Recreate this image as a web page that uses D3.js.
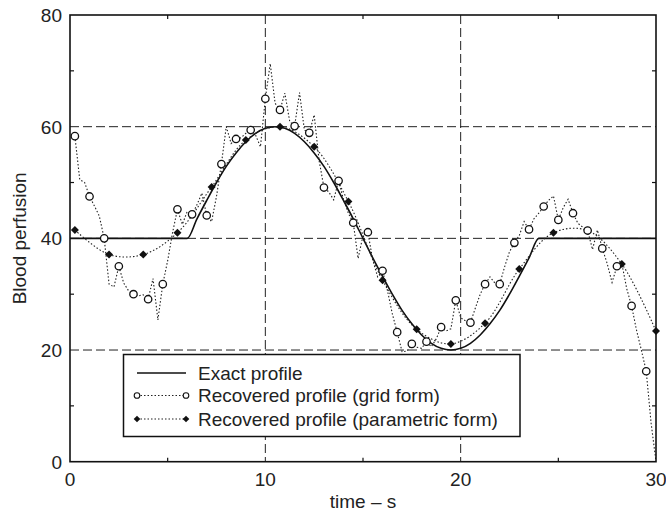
<!DOCTYPE html>
<html><head><meta charset="utf-8">
<script src="https://cdn.jsdelivr.net/npm/d3@7"></script>
<style>body{margin:0;background:#fff}svg{display:block}text{font-family:"Liberation Sans",Arial,Helvetica,sans-serif;fill:#222}</style>
</head><body>
<svg id="c" width="666" height="515"></svg>
<script>
// ---- data ----
const exactTime = [0,6,6.5,7,7.5,8,8.5,9,9.5,10,10.5,11,11.5,12,12.5,13,13.5,14,14.5,15,15.5,16,16.5,17,17.5,18,18.5,19,19.5,20,20.5,21,21.5,22,22.5,23,23.5,24,30];
const exactValue = [40,40,43.5,46.8,50,52.9,55.3,57.3,58.8,59.7,60,59.7,58.8,57.3,55.3,52.9,50,46.8,43.5,40,36.5,33.2,30,27.1,24.7,22.7,21.2,20.3,20,20.3,21.2,22.7,24.7,27.1,30,33.2,36.5,40,40];

const gridTime = d3.range(1, 121).map(i => i * 0.25);
const gridValue = [
 58.3,50.5,50.0, 47.5,45.8,44.0, 40.0,31.8,31.3, 35.0,32.0,30.6,
 30.0,29.7,29.9, 29.1,32.8,25.4, 31.8,36.0,41.0, 45.2,42.5,44.8,
 44.3,46.0,48.1, 44.1,43.0,47.5, 53.3,60.0,57.0, 57.8,58.0,58.8,
 59.4,58.5,56.4, 65.0,71.3,64.2, 63.0,66.0,60.9, 60.1,66.1,59.4,
 58.9,62.1,54.0, 49.1,48.3,46.9, 50.3,47.0,44.5, 42.8,36.4,40.5,
 41.1,36.1,33.1, 34.2,30.7,26.5, 23.2,19.7,19.8, 21.1,20.5,20.3,
 21.5,20.6,22.0, 24.1,23.4,23.8, 28.9,25.8,25.2, 24.9,27.5,30.0,
 31.8,33.1,32.0, 31.8,34.9,37.6, 39.2,40.5,43.0, 41.6,43.5,44.5,
 45.7,46.8,47.6, 43.3,45.5,47.0, 44.5,42.7,42.0, 41.4,38.0,41.5,
 38.2,35.5,32.1, 35.0,35.5,31.0, 27.9,23.6,20.0, 16.2,6.9,0.0];
const gridMarkerEvery = 3;

const paramTime = [0.25,2,3.75,5.5,7.25,9,10.75,12.5,14.25,16,17.75,19.5,21.25,23,24.75,26.5,28.25,30];
const paramValue = [41.5,37.1,37.1,41.0,49.2,57.6,60.0,56.4,46.6,32.5,23.7,21.1,24.8,34.5,41.0,41.4,35.4,23.4];

const xTicks = [0,10,20,30];
const yTicks = [0,20,40,60,80];
const xGrid = [10,20];
const yGrid = [20,40,60];
const xMinor = [5,15,25];
const yMinor = [10,30,50,70];
const legendLabels = ["Exact profile","Recovered profile (grid form)","Recovered profile (parametric form)"];
const xLabel = "time \u2013 s";
const yLabel = "Blood perfusion";

// ---- layout ----
const svg = d3.select("#c");
const L = 70, R = 656, T = 15, B = 461.7;
const x = d3.scaleLinear().domain([0,30]).range([L,R]);
const y = d3.scaleLinear().domain([0,80]).range([B,T]);
const FS = 19;
const diamondPath = h => `M0,${-h}L${h},0L0,${h}L${-h},0Z`;

// grid
const g = svg.append("g");
g.selectAll(".gx").data(xGrid).join("line")
  .attr("x1",d=>x(d)).attr("x2",d=>x(d)).attr("y1",T).attr("y2",B)
  .attr("stroke","#222").attr("stroke-width",1).attr("stroke-dasharray","9,4");
g.selectAll(".gy").data(yGrid).join("line")
  .attr("x1",L).attr("x2",R).attr("y1",d=>y(d)).attr("y2",d=>y(d))
  .attr("stroke","#222").attr("stroke-width",1).attr("stroke-dasharray","9,4");

// minor ticks (inward)
const tk = 4;
xMinor.forEach(v=>{
  svg.append("line").attr("x1",x(v)).attr("x2",x(v)).attr("y1",B).attr("y2",B-tk).attr("stroke","#111").attr("stroke-width",1.2);
  svg.append("line").attr("x1",x(v)).attr("x2",x(v)).attr("y1",T).attr("y2",T+tk).attr("stroke","#111").attr("stroke-width",1.2);
});
yMinor.forEach(v=>{
  svg.append("line").attr("x1",L).attr("x2",L+tk).attr("y1",y(v)).attr("y2",y(v)).attr("stroke","#111").attr("stroke-width",1.2);
  svg.append("line").attr("x1",R).attr("x2",R-tk).attr("y1",y(v)).attr("y2",y(v)).attr("stroke","#111").attr("stroke-width",1.2);
});

// clip
svg.append("clipPath").attr("id","clip").append("rect").attr("x",L).attr("y",T).attr("width",R-L).attr("height",B-T);
const plot = svg.append("g").attr("clip-path","url(#clip)");

// exact profile
const exact = exactTime.map((t,i)=>[t,exactValue[i]]);
plot.append("path").datum(exact)
  .attr("d", d3.line().x(d=>x(d[0])).y(d=>y(d[1])).curve(d3.curveMonotoneX))
  .attr("fill","none").attr("stroke","#111").attr("stroke-width",1.6);

// parametric dotted
const param = paramTime.map((t,i)=>[t,paramValue[i]]);
plot.append("path").datum(param)
  .attr("d", d3.line().x(d=>x(d[0])).y(d=>y(d[1])).curve(d3.curveCatmullRom.alpha(0.5)))
  .attr("fill","none").attr("stroke","#222").attr("stroke-width",1.1).attr("stroke-dasharray","1.5,2");

// grid dotted
const grid = gridTime.map((t,i)=>[t,gridValue[i]]);
plot.append("path").datum(grid)
  .attr("d", d3.line().x(d=>x(d[0])).y(d=>y(d[1])))
  .attr("fill","none").attr("stroke","#222").attr("stroke-width",1.1).attr("stroke-dasharray","1.5,2");

// markers
svg.append("g").selectAll("path").data(param).join("path")
  .attr("d", diamondPath(4)).attr("transform",d=>`translate(${x(d[0])},${y(d[1])})`)
  .attr("fill","#111");
svg.append("g").selectAll("circle").data(grid.filter((d,i)=>i%gridMarkerEvery===0)).join("circle")
  .attr("cx",d=>x(d[0])).attr("cy",d=>y(d[1])).attr("r",3.7)
  .attr("fill","#fff").attr("stroke","#111").attr("stroke-width",1.3);

// frame
svg.append("rect").attr("x",L).attr("y",T).attr("width",R-L).attr("height",B-T)
  .attr("fill","none").attr("stroke","#111").attr("stroke-width",1.6);

// tick labels
svg.append("g").selectAll("text").data(xTicks).join("text")
  .attr("x",d=>x(d)).attr("y",486).attr("text-anchor","middle").attr("font-size",FS).text(d=>d);
svg.append("g").selectAll("text").data(yTicks).join("text")
  .attr("x",62).attr("y",d=>y(d)+7).attr("text-anchor","end").attr("font-size",FS).text(d=>d);

// axis labels
svg.append("text").attr("x",(L+R)/2).attr("y",508).attr("text-anchor","middle").attr("font-size",FS).text(xLabel);
svg.append("text").attr("transform",`translate(26,${(T+B)/2}) rotate(-90)`).attr("text-anchor","middle").attr("font-size",FS).text(yLabel);

// legend
const lg = svg.append("g");
lg.append("rect").attr("x",123.5).attr("y",354.5).attr("width",396.5).attr("height",82)
  .attr("fill","#fff").attr("stroke","#111").attr("stroke-width",1.5);
const rows = [373, 395.5, 419];
const sx1 = 137, sx2 = 186, tx = 198;
lg.append("line").attr("x1",sx1).attr("x2",sx2).attr("y1",rows[0]).attr("y2",rows[0]).attr("stroke","#111").attr("stroke-width",1.5);
lg.append("line").attr("x1",sx1).attr("x2",sx2).attr("y1",rows[1]).attr("y2",rows[1]).attr("stroke","#222").attr("stroke-width",1.1).attr("stroke-dasharray","1.5,2");
[sx1,sx2].forEach(sx=>lg.append("circle").attr("cx",sx).attr("cy",rows[1]).attr("r",2.8).attr("fill","#fff").attr("stroke","#111").attr("stroke-width",1.1));
lg.append("line").attr("x1",sx1).attr("x2",sx2).attr("y1",rows[2]).attr("y2",rows[2]).attr("stroke","#222").attr("stroke-width",1.1).attr("stroke-dasharray","1.5,2");
[sx1,sx2].forEach(sx=>lg.append("path").attr("d",diamondPath(3.3)).attr("transform",`translate(${sx},${rows[2]})`).attr("fill","#111"));
legendLabels.forEach((t,i)=>lg.append("text").attr("x",tx).attr("y",rows[i]+6.5).attr("font-size",FS).text(t));
</script>
</body></html>
